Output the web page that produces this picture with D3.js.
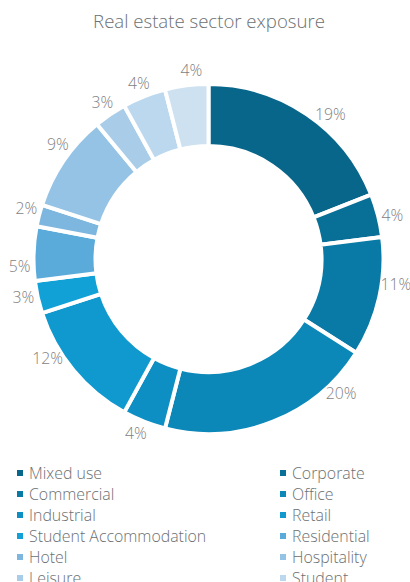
<!DOCTYPE html>
<html>
<head>
<meta charset="utf-8">
<script src="https://cdn.jsdelivr.net/npm/d3@7"></script>
<style>
  html, body { margin: 0; padding: 0; background: #fff; }
  svg { display: block; font-family: "Open Sans", sans-serif; }
</style>
</head>
<body>
<svg id="chart" width="410" height="582"></svg>
<script>
// sectors, clockwise from 12 o'clock
var sectors = ["Mixed use", "Corporate", "Commercial", "Office", "Industrial", "Retail",
               "Student Accommodation", "Residential", "Hotel", "Hospitality", "Leisure",
               "Student", "Other"];
var shares = [19, 4, 11, 20, 4, 12, 3, 5, 2, 9, 3, 4, 4];
var colours = ["#07668a", "#086f96", "#097aa6", "#0b87b8", "#0d8fc3", "#0f99ce",
               "#11a1d7", "#5aabda", "#7db6df", "#95c3e5", "#a9cde9", "#bcd8ee", "#cde1f0"];
// label angle tweaks (degrees) to mimic the original's label placement
var labelNudge = [6, 1, -5, -23, 1, 8, 1, -4, 1, 3, 0, 0, 2];

var svg = d3.select("#chart");
var cx = 208.5, cy = 259;

svg.append("text")
    .attr("x", 209)
    .attr("y", 28)
    .attr("text-anchor", "middle")
    .attr("font-size", 18.6)
    .attr("font-weight", 300)
    .attr("fill", "#6b7072")
    .text("Real estate sector exposure");

var pie = d3.pie().sort(null).value(function(d) { return d; });
var arcs = pie(shares);

var arc = d3.arc().innerRadius(113).outerRadius(175);

var g = svg.append("g").attr("transform", "translate(" + cx + "," + cy + ")");

g.selectAll("path.slice")
  .data(arcs)
  .enter().append("path")
    .attr("class", "slice")
    .attr("d", arc)
    .attr("fill", function(d, i) { return colours[i]; })
    .attr("stroke", "#fff")
    .attr("stroke-width", 4);

var labelR = 189;
g.selectAll("text.lbl")
  .data(arcs)
  .enter().append("text")
    .attr("class", "lbl")
    .attr("x", function(d, i) {
      var a = (d.startAngle + d.endAngle) / 2 + labelNudge[i] * Math.PI / 180;
      return labelR * Math.sin(a);
    })
    .attr("y", function(d, i) {
      var a = (d.startAngle + d.endAngle) / 2 + labelNudge[i] * Math.PI / 180;
      return -labelR * Math.cos(a);
    })
    .attr("dy", "0.35em")
    .attr("text-anchor", "middle")
    .attr("font-size", 15.8)
    .attr("font-weight", 300)
    .attr("fill", "#7f7f7f")
    .text(function(d) { return d.data + "%"; });

// legend, two columns
var legend = svg.append("g");
var item = legend.selectAll("g.item")
  .data(sectors)
  .enter().append("g")
    .attr("class", "item")
    .attr("transform", function(d, i) {
      var col = i % 2, row = Math.floor(i / 2);
      return "translate(" + (col ? 280 : 17) + "," + (473 + row * 21) + ")";
    });

item.append("rect")
    .attr("x", 0)
    .attr("y", -3)
    .attr("width", 6)
    .attr("height", 6)
    .attr("fill", function(d, i) { return colours[i]; });

item.append("text")
    .attr("x", 12)
    .attr("dy", "0.35em")
    .attr("font-size", 15.9)
    .attr("font-weight", 300)
    .attr("fill", "#6b7072")
    .text(function(d) { return d; });
</script>
</body>
</html>
